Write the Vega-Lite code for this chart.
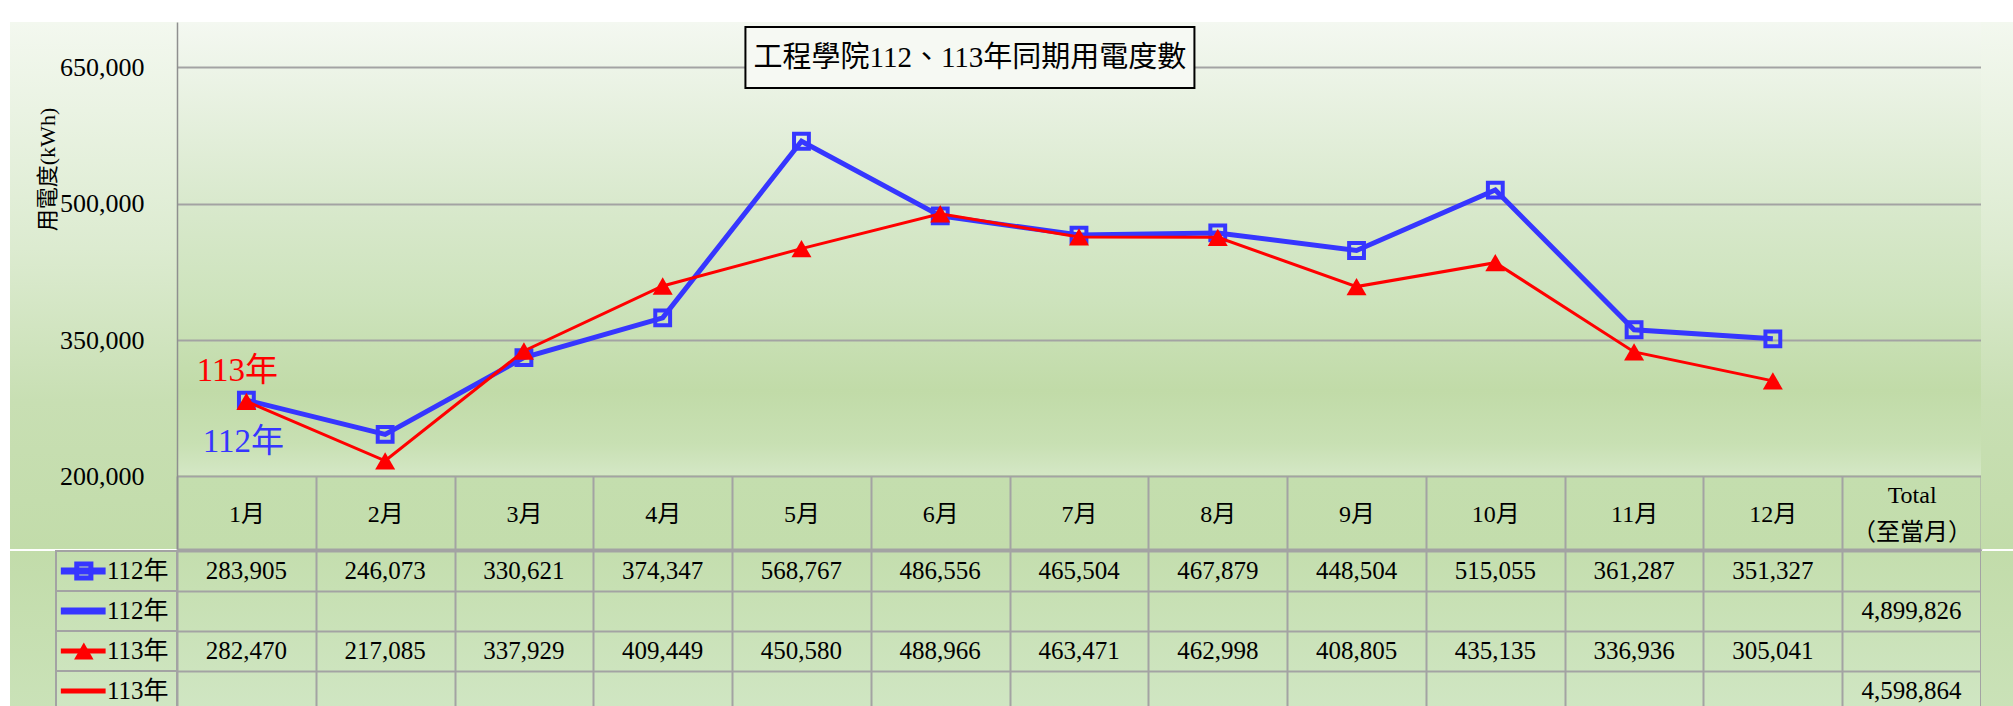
{
  "$schema": "https://vega.github.io/schema/vega-lite/v6.json",
  "padding": {"left": 10, "top": 22, "right": 0, "bottom": 0},
  "background": "#ffffff",
  "spacing": 0,
  "config": {
    "view": {"stroke": null},
    "font": "Liberation Serif, Noto Sans CJK TC",
    "concat": {"spacing": 0}
  },
  "datasets": {
    "usage": [
      {"month": "1月", "series": "112年", "value": 283905},
      {"month": "2月", "series": "112年", "value": 246073},
      {"month": "3月", "series": "112年", "value": 330621},
      {"month": "4月", "series": "112年", "value": 374347},
      {"month": "5月", "series": "112年", "value": 568767},
      {"month": "6月", "series": "112年", "value": 486556},
      {"month": "7月", "series": "112年", "value": 465504},
      {"month": "8月", "series": "112年", "value": 467879},
      {"month": "9月", "series": "112年", "value": 448504},
      {"month": "10月", "series": "112年", "value": 515055},
      {"month": "11月", "series": "112年", "value": 361287},
      {"month": "12月", "series": "112年", "value": 351327},
      {"month": "1月", "series": "113年", "value": 282470},
      {"month": "2月", "series": "113年", "value": 217085},
      {"month": "3月", "series": "113年", "value": 337929},
      {"month": "4月", "series": "113年", "value": 409449},
      {"month": "5月", "series": "113年", "value": 450580},
      {"month": "6月", "series": "113年", "value": 488966},
      {"month": "7月", "series": "113年", "value": 463471},
      {"month": "8月", "series": "113年", "value": 462998},
      {"month": "9月", "series": "113年", "value": 408805},
      {"month": "10月", "series": "113年", "value": 435135},
      {"month": "11月", "series": "113年", "value": 336936},
      {"month": "12月", "series": "113年", "value": 305041}
    ],
    "notes": [
      {"month": "6月", "value": 660929, "label": "工程學院112、113年同期用電度數", "kind": "title"},
      {"month": "1月", "value": 315600, "label": "113年", "kind": "red"},
      {"month": "1月", "value": 237700, "label": "112年", "kind": "blue"}
    ],
    "table": [
      {"row": "r1", "col": "1月", "value": 283905},
      {"row": "r1", "col": "2月", "value": 246073},
      {"row": "r1", "col": "3月", "value": 330621},
      {"row": "r1", "col": "4月", "value": 374347},
      {"row": "r1", "col": "5月", "value": 568767},
      {"row": "r1", "col": "6月", "value": 486556},
      {"row": "r1", "col": "7月", "value": 465504},
      {"row": "r1", "col": "8月", "value": 467879},
      {"row": "r1", "col": "9月", "value": 448504},
      {"row": "r1", "col": "10月", "value": 515055},
      {"row": "r1", "col": "11月", "value": 361287},
      {"row": "r1", "col": "12月", "value": 351327},
      {"row": "r2", "col": "Total", "value": 4899826},
      {"row": "r3", "col": "1月", "value": 282470},
      {"row": "r3", "col": "2月", "value": 217085},
      {"row": "r3", "col": "3月", "value": 337929},
      {"row": "r3", "col": "4月", "value": 409449},
      {"row": "r3", "col": "5月", "value": 450580},
      {"row": "r3", "col": "6月", "value": 488966},
      {"row": "r3", "col": "7月", "value": 463471},
      {"row": "r3", "col": "8月", "value": 462998},
      {"row": "r3", "col": "9月", "value": 408805},
      {"row": "r3", "col": "10月", "value": 435135},
      {"row": "r3", "col": "11月", "value": 336936},
      {"row": "r3", "col": "12月", "value": 305041},
      {"row": "r4", "col": "Total", "value": 4598864}
    ],
    "rowlabels": [
      {"row": "r1", "label": "112年", "series": "112年", "sym": "marker"},
      {"row": "r2", "label": "112年", "series": "112年", "sym": "line"},
      {"row": "r3", "label": "113年", "series": "113年", "sym": "marker"},
      {"row": "r4", "label": "113年", "series": "113年", "sym": "line"}
    ]
  },
  "vconcat": [
    {
      "spacing": 0,
      "bounds": "flush",
      "hconcat": [
        {
          "width": 167, "height": 527,
          "data": {"values": []},
          "mark": "point",
          "view": {"stroke": null, "fill": {"gradient": "linear", "x1": 0, "y1": 0, "x2": 0, "y2": 1,
            "stops": [{"offset": 0, "color": "#f3f8ef"}, {"offset": 0.43, "color": "#dcebd0"}, {"offset": 0.72, "color": "#c8dfb3"}, {"offset": 1, "color": "#c2dcaa"}]}}
        },
        {
          "width": 1804, "height": 527,
          "view": {"stroke": null, "fill": {"gradient": "linear", "x1": 0, "y1": 0, "x2": 0, "y2": 1,
            "stops": [
              {"offset": 0, "color": "#f4f8f1"},
              {"offset": 0.34, "color": "#d9e9cd"},
              {"offset": 0.53, "color": "#cde3bc"},
              {"offset": 0.70, "color": "#c1dba8"},
              {"offset": 0.80, "color": "#c8e0b3"},
              {"offset": 0.86, "color": "#d4e7c5"},
              {"offset": 0.8605, "color": "#c4deae"},
              {"offset": 1, "color": "#c3ddac"}
            ]}},
          "encoding": {
            "x": {"field": "month", "type": "ordinal",
              "scale": {"type": "band", "domain": ["1月","2月","3月","4月","5月","6月","7月","8月","9月","10月","11月","12月","Total"], "paddingInner": 0, "paddingOuter": 0},
              "axis": {"orient": "bottom", "title": null, "labelAngle": 0, "tickBand": "extent", "tickSize": -73, "tickColor": "#a3a3a3", "tickWidth": 2,
                "domainColor": "#a3a3a3", "domainWidth": 2, "grid": false,
                "labelPadding": {"condition": {"test": "datum.value === 'Total'", "value": 19}, "value": 38},
                "labelBaseline": "middle",
                "labelFontSize": 24, "labelColor": "#000000", "labelLineHeight": 37,
                "labelExpr": "datum.value === 'Total' ? ['Total', '（至當月）'] : datum.label"}},
            "y": {"field": "value", "type": "quantitative",
              "scale": {"domain": [120000, 700000], "nice": false, "zero": false},
              "axis": {"values": [200000, 350000, 500000, 650000], "format": ",d", "grid": true, "gridColor": "#a3a3a3", "gridWidth": 2,
                "domain": true, "domainColor": "#8f8f8f", "domainWidth": 1.5, "ticks": false, "labelPadding": 33,
                "labelFontSize": 26, "labelColor": "#000000",
                "title": "用電度(kWh)", "titleFontSize": 22, "titleFontWeight": "normal", "titleColor": "#000000",
                "titleX": -130, "titleY": 147, "titleBaseline": "middle", "titleAlign": "center"}}
          },
          "layer": [
            {
              "data": {"name": "usage"},
              "transform": [{"filter": "datum.series === '112年'"}],
              "mark": {"type": "line", "color": "#3636ff", "strokeWidth": 5}
            },
            {
              "data": {"name": "usage"},
              "transform": [{"filter": "datum.series === '112年'"}],
              "mark": {"type": "point", "shape": "square", "size": 220, "filled": false, "stroke": "#3636ff", "strokeWidth": 4, "opacity": 1}
            },
            {
              "data": {"name": "usage"},
              "transform": [{"filter": "datum.series === '113年'"}],
              "mark": {"type": "line", "color": "#ff0000", "strokeWidth": 3}
            },
            {
              "data": {"name": "usage"},
              "transform": [{"filter": "datum.series === '113年'"}],
              "mark": {"type": "point", "shape": "triangle-up", "size": 400, "filled": true, "color": "#ff0000", "opacity": 1}
            },
            {
              "data": {"name": "notes"},
              "transform": [{"filter": "datum.kind === 'title'"}],
              "mark": {"type": "point", "shape": "M-1,-0.1359H1V0.1359H-1Z", "size": 201601, "filled": true, "fill": "#f6f9f3", "stroke": "#000000", "strokeWidth": 2, "opacity": 1, "fillOpacity": 1, "xOffset": 29.7}
            },
            {
              "data": {"name": "notes"},
              "transform": [{"filter": "datum.kind === 'title'"}],
              "mark": {"type": "text", "fontSize": 29, "color": "#000000", "baseline": "middle", "align": "center", "xOffset": 29.7},
              "encoding": {"text": {"field": "label", "type": "nominal"}}
            },
            {
              "data": {"name": "notes"},
              "transform": [{"filter": "datum.kind === 'red'"}],
              "mark": {"type": "text", "fontSize": 33, "color": "#ff0000", "baseline": "middle", "align": "center", "dx": -9},
              "encoding": {"text": {"field": "label", "type": "nominal"}}
            },
            {
              "data": {"name": "notes"},
              "transform": [{"filter": "datum.kind === 'blue'"}],
              "mark": {"type": "text", "fontSize": 33, "color": "#3636ff", "baseline": "middle", "align": "center", "dx": -3},
              "encoding": {"text": {"field": "label", "type": "nominal"}}
            }
          ]
        },
        {
          "width": 32, "height": 527,
          "data": {"values": []},
          "mark": "point",
          "view": {"stroke": null, "fill": {"gradient": "linear", "x1": 0, "y1": 0, "x2": 0, "y2": 1,
            "stops": [{"offset": 0, "color": "#f3f8ef"}, {"offset": 0.43, "color": "#dcebd0"}, {"offset": 0.72, "color": "#c8dfb3"}, {"offset": 1, "color": "#c2dcaa"}]}}
        }
      ]
    },
    {
      "spacing": 0,
      "bounds": "flush",
      "hconcat": [
        {
          "width": 46, "height": 160,
          "data": {"values": []},
          "mark": "point",
          "view": {"stroke": null, "fill": {"gradient": "linear", "x1": 0, "y1": 0, "x2": 0, "y2": 1,
            "stops": [{"offset": 0, "color": "#c2dcaa"}, {"offset": 1, "color": "#cae2b8"}]}}
        },
        {
          "width": 121, "height": 160,
          "data": {"name": "rowlabels"},
          "view": {"stroke": null, "fill": {"gradient": "linear", "x1": 0, "y1": 0, "x2": 0, "y2": 1,
            "stops": [{"offset": 0, "color": "#c4deae"}, {"offset": 1, "color": "#d0e6c3"}]}},
          "encoding": {
            "y": {"field": "row", "type": "ordinal", "scale": {"type": "band", "domain": ["r1", "r2", "r3", "r4"], "paddingInner": 0, "paddingOuter": 0}, "axis": null}
          },
          "layer": [
            {"mark": {"type": "rect", "fillOpacity": 0, "stroke": "#a3a3a3", "strokeWidth": 2}},
            {
              "transform": [{"filter": "datum.series === '112年'"}],
              "mark": {"type": "rule", "color": "#3636ff", "strokeWidth": 7},
              "encoding": {
                "x": {"datum": 0.04, "type": "quantitative", "scale": {"domain": [0, 1], "nice": false, "zero": false}, "axis": null},
                "x2": {"datum": 0.41}
              }
            },
            {
              "transform": [{"filter": "datum.series === '113年'"}],
              "mark": {"type": "rule", "color": "#ff0000", "strokeWidth": 5},
              "encoding": {
                "x": {"datum": 0.04, "type": "quantitative", "scale": {"domain": [0, 1], "nice": false, "zero": false}, "axis": null},
                "x2": {"datum": 0.41}
              }
            },
            {
              "transform": [{"filter": "datum.sym === 'marker' && datum.series === '112年'"}],
              "mark": {"type": "point", "shape": "square", "size": 200, "filled": false, "stroke": "#3636ff", "strokeWidth": 5, "opacity": 1},
              "encoding": {
                "x": {"datum": 0.23, "type": "quantitative", "scale": {"domain": [0, 1], "nice": false, "zero": false}, "axis": null}
              }
            },
            {
              "transform": [{"filter": "datum.sym === 'marker' && datum.series === '113年'"}],
              "mark": {"type": "point", "shape": "triangle-up", "size": 380, "filled": true, "color": "#ff0000", "opacity": 1},
              "encoding": {
                "x": {"datum": 0.23, "type": "quantitative", "scale": {"domain": [0, 1], "nice": false, "zero": false}, "axis": null}
              }
            },
            {
              "mark": {"type": "text", "align": "right", "baseline": "middle", "fontSize": 25, "color": "#000000"},
              "encoding": {
                "x": {"datum": 0.93, "type": "quantitative", "scale": {"domain": [0, 1], "nice": false, "zero": false}, "axis": null},
                "text": {"field": "label", "type": "nominal"}
              }
            }
          ]
        },
        {
          "width": 1804, "height": 160,
          "data": {"name": "table"},
          "view": {"stroke": "#a3a3a3", "strokeWidth": 2, "fill": {"gradient": "linear", "x1": 0, "y1": 0, "x2": 0, "y2": 1,
            "stops": [{"offset": 0, "color": "#c4deae"}, {"offset": 1, "color": "#d0e6c3"}]}},
          "mark": {"type": "text", "fontSize": 25, "color": "#000000", "baseline": "middle"},
          "encoding": {
            "x": {"field": "col", "type": "ordinal",
              "scale": {"type": "band", "domain": ["1月","2月","3月","4月","5月","6月","7月","8月","9月","10月","11月","12月","Total"], "paddingInner": 0, "paddingOuter": 0},
              "axis": {"grid": true, "gridColor": "#a3a3a3", "gridWidth": 2, "tickBand": "extent", "labels": false, "ticks": false, "domain": false, "title": null}},
            "y": {"field": "row", "type": "ordinal",
              "scale": {"type": "band", "domain": ["r1", "r2", "r3", "r4"], "paddingInner": 0, "paddingOuter": 0},
              "axis": {"grid": true, "gridColor": "#a3a3a3", "gridWidth": 2, "tickBand": "extent", "labels": false, "ticks": false, "domain": false, "title": null}},
            "text": {"field": "value", "type": "quantitative", "format": ","}
          }
        },
        {
          "width": 32, "height": 160,
          "data": {"values": []},
          "mark": "point",
          "view": {"stroke": null, "fill": {"gradient": "linear", "x1": 0, "y1": 0, "x2": 0, "y2": 1,
            "stops": [{"offset": 0, "color": "#c2dcaa"}, {"offset": 1, "color": "#cae2b8"}]}}
        }
      ]
    }
  ]
}
